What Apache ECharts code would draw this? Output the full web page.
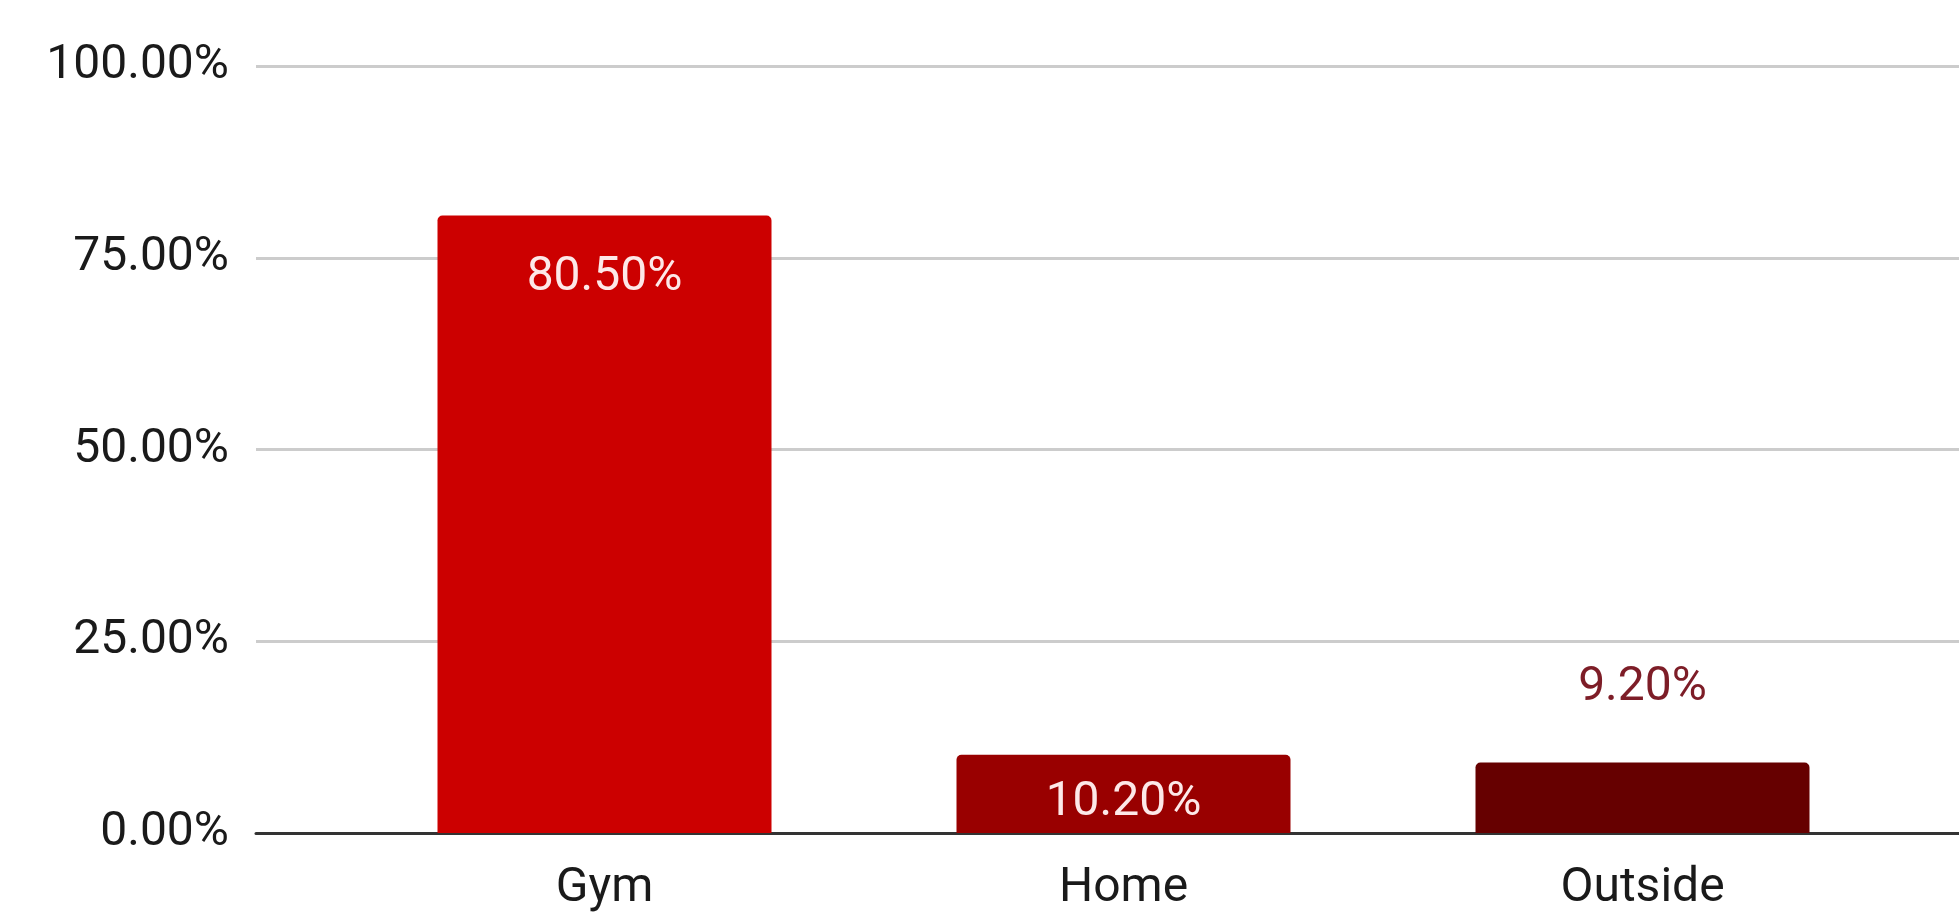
<!DOCTYPE html>
<html>
<head>
<meta charset="utf-8">
<title>Workout location</title>
<script src="https://cdn.jsdelivr.net/npm/echarts@6/dist/echarts.min.js"></script>
<style>
  html, body { margin: 0; padding: 0; background: #fff; }
  #chart { width: 1959px; height: 919px; }
</style>
</head>
<body>
<div id="chart"></div>
<script>
// chart data
const categories = ['Gym', 'Home', 'Outside'];
const shares = [80.5, 10.2, 9.2];
const yMin = 0;
const yMax = 100;
const yStep = 25;

const barColors = ['#cc0000', '#990000', '#660000'];
const labelStyles = [
    { position: 'insideTop', distance: 38, color: '#fde8e8' },
    { position: 'insideTop', distance: 24, color: '#fde8e8' },
    { position: 'top', distance: 50, color: '#7d1d27' }
];
const FONT = 'Roboto, "Noto Sans", sans-serif';

function renderChart() {
    const chart = echarts.init(document.getElementById('chart'), null, { renderer: 'canvas' });

    chart.setOption({
        backgroundColor: '#ffffff',
        animation: false,
        grid: [
            // wide grid: y ticks, gridlines and baseline
            { left: 256, right: 0, top: 66, bottom: 86 },
            // bars sit in a narrower band
            { left: 345, right: 57, top: 66, bottom: 86 }
        ],
        xAxis: [
            {
                gridIndex: 0, type: 'value', min: 0, max: 1,
                axisLine: { show: true, lineStyle: { color: '#333333', width: 3 } },
                axisTick: { show: false }, axisLabel: { show: false }, splitLine: { show: false }
            },
            {
                gridIndex: 1, type: 'category', data: categories,
                axisLine: { show: false }, axisTick: { show: false },
                axisLabel: { color: '#1a1a1a', fontSize: 48, fontFamily: FONT, margin: 32 }
            }
        ],
        yAxis: [
            {
                gridIndex: 0, type: 'value', min: yMin, max: yMax, interval: yStep,
                axisLine: { show: false }, axisTick: { show: false },
                axisLabel: {
                    color: '#1a1a1a', fontSize: 48, fontFamily: FONT, margin: 27,
                    formatter: v => v.toFixed(2) + '%'
                },
                splitLine: { lineStyle: { color: '#cccccc', width: 3 } }
            },
            {
                gridIndex: 1, type: 'value', min: yMin, max: yMax, interval: yStep,
                show: false, splitLine: { show: false }
            }
        ],
        series: [
            {
                type: 'bar', xAxisIndex: 1, yAxisIndex: 1,
                barWidth: 334,
                data: shares.map((v, i) => ({
                    value: v,
                    itemStyle: { color: barColors[i], borderRadius: [5, 5, 0, 0] },
                    label: {
                        show: true,
                        position: labelStyles[i].position,
                        distance: labelStyles[i].distance,
                        color: labelStyles[i].color,
                        fontSize: 48, fontFamily: FONT,
                        formatter: p => p.value.toFixed(2) + '%'
                    }
                }))
            }
        ]
    });

    window.addEventListener('resize', () => chart.resize());
}

renderChart();
</script>
</body>
</html>
